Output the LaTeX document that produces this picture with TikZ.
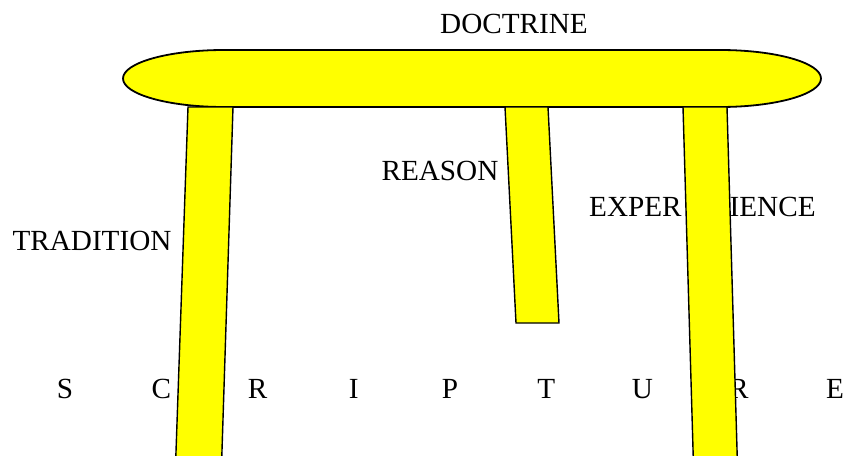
\documentclass[tikz,border=0pt]{standalone}
\usepackage{fontspec}
\setmainfont{Liberation Serif}
\usepackage{tikz}
\definecolor{jauneSiege}{RGB}{255, 255, 0}

\begin{document}
\begin{tikzpicture}[x=1pt, y=-1pt,
  mot/.style={font=\fontsize{29.2}{34}\selectfont, inner sep=0pt, anchor=base},
  siege/.style={draw=black, line width=1.8pt, fill=jauneSiege},
  pied/.style={draw=black, line width=1.4pt, fill=jauneSiege, line join=miter},
]
\clip (0,0) rectangle (843,455);
% assise du tabouret
\draw[siege] (224,50) -- (720,50)
  arc[start angle=-90, end angle=90, x radius=101, y radius=28.5]
  -- (224,107)
  arc[start angle=90, end angle=270, x radius=101, y radius=28.5] -- cycle;
\node[mot] (doctrine)   at (514, 33)  {DOCTRINE};
\node[mot] (reason)     at (440, 180) {REASON};
\node[mot] (tradition)  at (92,  250) {TRADITION};
\node[mot, anchor=base west] (experience) at (589, 216)
  {EXPER\hspace{48pt}IENCE};
\foreach \lettre [count=\i from 0] in {S,C,R,I,P,T,U,R,E}
  \node[mot] (scr\i) at (65+96.25*\i, 398) {\lettre};
% pieds
\draw[pied] (188,107) -- (233,107) -- (221.5,466) -- (175.5,466) -- cycle;
\draw[pied] (505,107) -- (548,107) -- (559,323) -- (516,323) -- cycle;
\draw[pied] (683,107) -- (727,107) -- (737.5,466) -- (693.5,466) -- cycle;
\end{tikzpicture}
\end{document}
